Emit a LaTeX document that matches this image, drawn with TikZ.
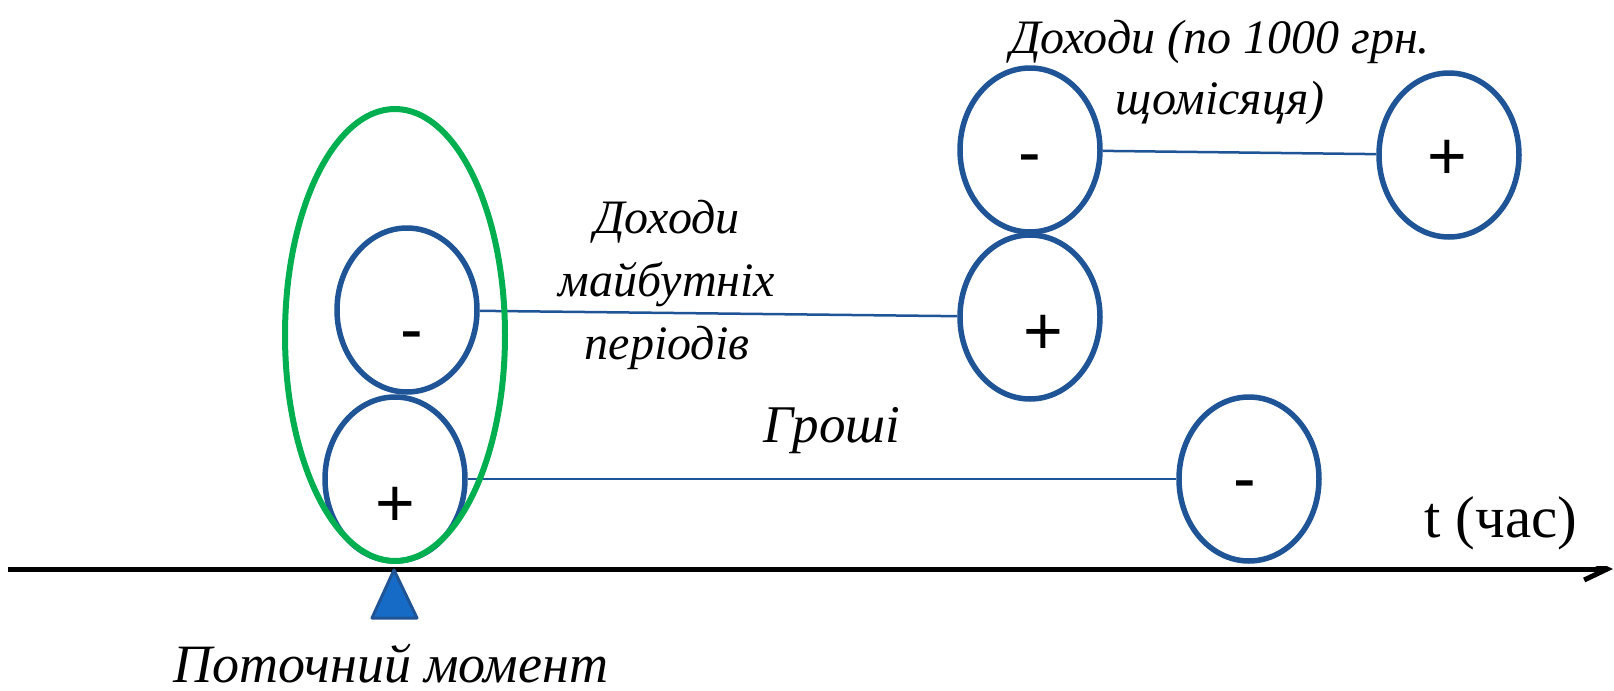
\documentclass[tikz,border=0pt]{standalone}
\usepackage{fontspec}
\setmainfont{Liberation Serif}
\newfontfamily\signfont{Liberation Sans}
\usetikzlibrary{shapes.geometric,arrows.meta}
\definecolor{cashblue}{RGB}{31,85,150}
\definecolor{nowgreen}{RGB}{0,176,80}
\definecolor{markblue}{RGB}{21,107,197}
\tikzset{
    cash/.style={ellipse, draw=cashblue, line width=2.75pt, fill=white,
        minimum width=70pt, minimum height=82pt, inner sep=0pt},
    sign/.style={font=\signfont\fontsize{34}{34}\selectfont,
        text height=23.8pt, text depth=0pt, inner sep=0pt},
    link/.style={draw=cashblue, line width=1.25pt},
    note/.style={font=\itshape\fontsize{24}{31.5}\selectfont, align=center},
}
\begin{document}
\begin{tikzpicture}[x=0.5pt, y=-0.5pt]
        \useasboundingbox (0,0) rectangle (1614,691);
        % cash flows
        \node[cash, label={[sign, yshift=-12pt]center:+}] (m1) at (395,479) {};
        \node[cash, label={[sign, xshift=2.5pt, yshift=-9.1pt]center:-}] (m2) at (407,310) {};
        \node[cash, label={[sign, xshift=6.5pt, yshift=-7pt]center:+}] (p1) at (1030,317) {};
        \node[cash, label={[sign, yshift=-0.6pt]center:-}] (p2) at (1030,150) {};
        \node[cash, label={[sign, xshift=-1pt, yshift=-0.5pt]center:+}] (p3) at (1449,155) {};
        \node[cash, label={[sign, xshift=-2pt, yshift=0.9pt]center:-}] (p4) at (1249,479) {};
        \draw[link] (m2) -- (p1);
        \draw[link] (m1) -- (p4);
        \draw[link] (p2) -- (p3);
        \node[ellipse, draw=nowgreen, line width=3pt, minimum width=110pt,
            minimum height=226pt, inner sep=0pt] (now) at (395,335) {};
        % time axis
        \coordinate (t0) at (8,569);
        \coordinate (t1) at (1613,569);
        \draw[line width=2.5pt, -{Straight Barb[length=11.5pt, width=11pt]}] (t0) -- (t1);
        \node[fill=white, minimum width=113pt, minimum height=43pt,
            font=\fontsize{29.5}{29.5}\selectfont] (time) at (1501,523) {t (час)};
        \coordinate (mark) at (394,570);
        \draw[draw=cashblue, fill=markblue, line width=1.5pt, line join=round]
            (mark) -- ++(23,48) -- ++(-45,0) -- cycle;
        % labels
        \node[note] (future) at (667,285) {Доходи\\майбутніх\\періодів};
        \node[note, font=\itshape\fontsize{24}{30.5}\selectfont] (monthly) at (1220,72) {Доходи (по 1000 грн.\\щомісяця)};
        \node[font=\itshape\fontsize{26.5}{26.5}\selectfont] (money) at (832,431) {Гроші};
        \node[inner sep=0pt, font=\itshape\fontsize{27}{27}\selectfont] (current) at (391,664) {Поточний момент};
    \end{tikzpicture}
\end{document}
